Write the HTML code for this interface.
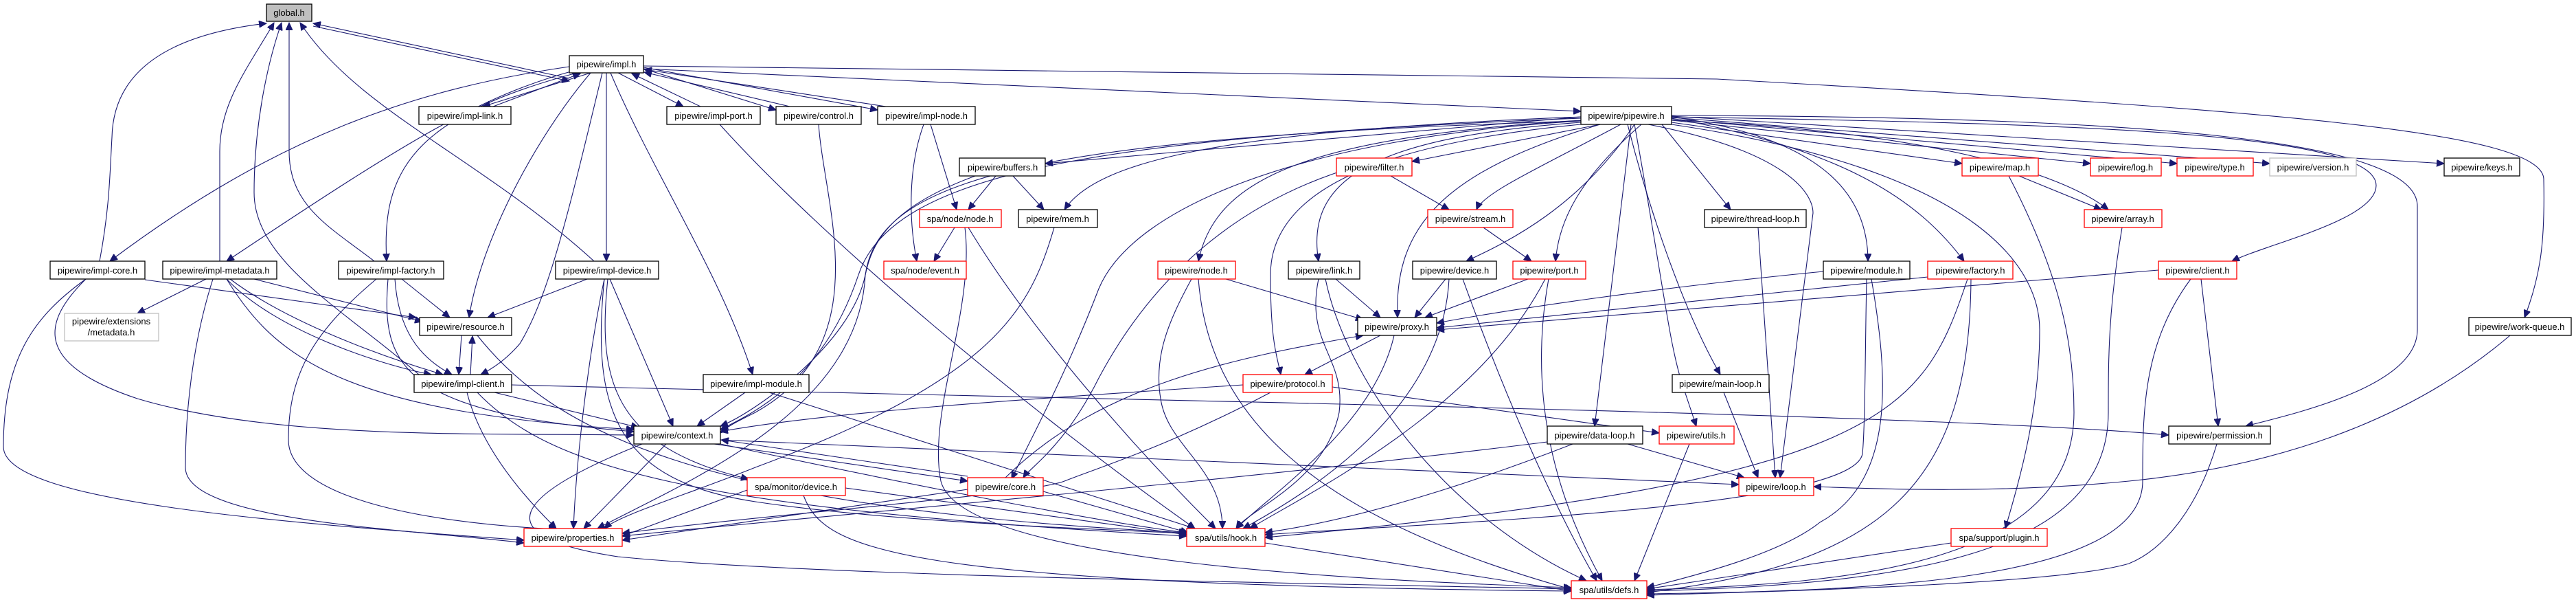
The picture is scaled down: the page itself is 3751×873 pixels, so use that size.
<!DOCTYPE html>
<html><head><meta charset="utf-8"><style>
html,body{margin:0;padding:0;background:#fff;}
svg{display:block}
text{font-family:"Liberation Sans",Arial,sans-serif;font-size:13px;fill:#000;text-anchor:middle;}
.e{fill:none;stroke:#191970;stroke-width:1.1;marker-end:url(#a);}
.n rect{fill:#fff;stroke:#000;stroke-width:1.3;}
.r rect{fill:#fff;stroke:#ff0000;stroke-width:1.3;}
.g rect{fill:#fff;stroke:#bfbfbf;stroke-width:1.3;}
</style></head><body>
<svg width="3751" height="873" viewBox="0 0 3751 873" xmlns="http://www.w3.org/2000/svg">
<defs><marker id="a" markerUnits="userSpaceOnUse" markerWidth="12" markerHeight="10" refX="11" refY="5" orient="auto"><path d="M0,0 L11,5 L0,10 z" fill="#191970" stroke="#191970"/></marker></defs>
<g>
<path class="e" d="M829,114 L456,34"/>
<path class="e" d="M456,38 L829,118"/>
<path class="e" d="M145,380 C160,300 160,250 163,200 C165,100 250,50 388,34"/>
<path class="e" d="M320,380 L320,220 C320,150 360,100 399,33"/>
<path class="e" d="M610,545 C500,450 370,380 370,280 C370,180 390,90 410,33"/>
<path class="e" d="M545,380 C480,330 421,300 421,220 L421,33"/>
<path class="e" d="M865,380 C700,230 520,160 437,33"/>
<path class="e" d="M860,106 L703,155"/>
<path class="e" d="M718,155 L845,107"/>
<path class="e" d="M900,106 L995,155"/>
<path class="e" d="M1020,155 L920,107"/>
<path class="e" d="M937,100 L1130,160"/>
<path class="e" d="M1150,155 L938,105"/>
<path class="e" d="M937,98 L1278,160"/>
<path class="e" d="M1290,155 L938,101"/>
<path class="e" d="M829,97 C600,130 400,200 160,380"/>
<path class="e" d="M835,103 C700,140 600,200 330,380"/>
<path class="e" d="M840,106 C600,170 555,250 563,380"/>
<path class="e" d="M883,106 L883,380"/>
<path class="e" d="M860,106 C780,200 700,350 683,462"/>
<path class="e" d="M877,106 C830,300 800,430 757,500 C740,520 720,535 700,545"/>
<path class="e" d="M889,106 C950,250 1050,400 1096,545"/>
<path class="e" d="M937,100 L2302,162"/>
<path class="e" d="M937,96 L2500,115 C3300,160 3700,190 3704,260 C3706,350 3700,400 3676,462"/>
<path class="e" d="M211,407 L606,462"/>
<path class="e" d="M125,406 C60,470 50,530 200,580 C400,640 700,630 923,633"/>
<path class="e" d="M125,406 C50,460 5,520 5,650 C5,730 400,760 763,786"/>
<path class="e" d="M300,406 L200,456"/>
<path class="e" d="M370,406 L615,468"/>
<path class="e" d="M330,406 C400,480 550,530 628,545"/>
<path class="e" d="M335,406 C420,470 560,520 645,545"/>
<path class="e" d="M330,406 C400,520 500,600 923,625"/>
<path class="e" d="M310,406 C280,500 270,600 270,680 C270,760 600,770 763,790"/>
<path class="e" d="M585,406 L655,462"/>
<path class="e" d="M575,406 C580,480 610,520 658,545"/>
<path class="e" d="M565,406 C555,530 580,600 923,628"/>
<path class="e" d="M548,406 C460,480 420,540 420,640 C420,720 600,760 810,770"/>
<path class="e" d="M855,406 L710,462"/>
<path class="e" d="M888,406 L980,620"/>
<path class="e" d="M880,406 C860,500 840,650 835,769"/>
<path class="e" d="M885,406 C870,550 890,650 1090,697"/>
<path class="e" d="M880,406 C860,600 900,700 1100,730 C1300,760 1600,770 1728,776"/>
<path class="e" d="M672,488 L668,545"/>
<path class="e" d="M685,545 L688,489"/>
<path class="e" d="M695,488 C800,620 1000,740 1728,775"/>
<path class="e" d="M745,560 C1500,580 2800,600 3158,633"/>
<path class="e" d="M720,571 L930,622"/>
<path class="e" d="M680,571 C700,650 760,720 810,769"/>
<path class="e" d="M695,571 C800,680 1000,740 1728,780"/>
<path class="e" d="M1085,571 L1015,620"/>
<path class="e" d="M1120,571 L1740,769"/>
<path class="e" d="M970,646 L850,769"/>
<path class="e" d="M1040,646 L1409,700"/>
<path class="e" d="M1409,693 L1050,640"/>
<path class="e" d="M1049,640 L2532,705"/>
<path class="e" d="M935,646 C750,720 700,780 900,810 C1200,840 2000,850 2288,857"/>
<path class="e" d="M1049,646 C1300,700 1600,760 1728,775"/>
<path class="e" d="M1231,710 L1728,778"/>
<path class="e" d="M1170,721 C1200,800 1300,850 2288,860"/>
<path class="e" d="M1088,713 L906,780"/>
<path class="e" d="M1409,712 L906,786"/>
<path class="e" d="M1519,715 L1730,775"/>
<path class="e" d="M1464,695 C1600,560 1800,520 1985,488"/>
<path class="e" d="M1842,790 L2288,860"/>
<path class="e" d="M2302,170 L1522,238"/>
<path class="e" d="M2302,170 C1800,190 1600,230 1550,305"/>
<path class="e" d="M2330,181 L2056,235"/>
<path class="e" d="M2360,181 C2250,240 2160,280 2150,305"/>
<path class="e" d="M2302,175 C1900,200 1770,260 1745,380"/>
<path class="e" d="M2302,178 C2000,200 1900,260 1920,380"/>
<path class="e" d="M2380,181 C2300,300 2200,350 2135,380"/>
<path class="e" d="M2390,181 C2300,260 2270,320 2265,380"/>
<path class="e" d="M2330,181 C2100,250 2030,330 2035,462"/>
<path class="e" d="M2302,181 C2000,210 1850,280 1850,400 C1850,500 1860,520 1865,545"/>
<path class="e" d="M2302,176 C1900,200 1650,300 1600,420 C1550,550 1500,640 1473,697"/>
<path class="e" d="M2302,172 C1600,200 1300,250 1250,400 C1200,550 1100,600 1049,625"/>
<path class="e" d="M2302,176 C1500,200 1280,260 1260,400 C1250,600 1000,700 870,769"/>
<path class="e" d="M1048,181 C1200,350 1500,600 1740,769"/>
<path class="e" d="M1192,181 C1200,300 1280,500 1100,600 C1070,615 1060,620 1049,630"/>
<path class="e" d="M1345,181 C1320,250 1325,330 1335,380"/>
<path class="e" d="M1355,181 L1393,305"/>
<path class="e" d="M1450,256 L1410,305"/>
<path class="e" d="M1475,256 L1520,305"/>
<path class="e" d="M1420,256 C1300,300 1270,350 1260,400 C1240,500 1100,600 1049,620"/>
<path class="e" d="M1390,331 L1360,380"/>
<path class="e" d="M1410,331 C1500,480 1650,650 1770,769"/>
<path class="e" d="M1405,331 C1420,450 1350,600 1370,700 C1400,820 2000,845 2288,855"/>
<path class="e" d="M1535,331 C1500,450 1450,550 1100,680 C1000,720 900,750 880,769"/>
<path class="e" d="M2025,256 L2110,305"/>
<path class="e" d="M1950,250 C1800,300 1680,400 1600,550 C1550,650 1500,680 1490,695"/>
<path class="e" d="M2160,331 L2230,380"/>
<path class="e" d="M1785,406 L1985,465"/>
<path class="e" d="M1735,406 C1700,470 1680,520 1690,580 C1700,650 1780,680 1780,769"/>
<path class="e" d="M1745,406 C1760,600 1900,750 2290,858"/>
<path class="e" d="M1945,406 L2010,462"/>
<path class="e" d="M1920,406 C1900,500 1960,520 1950,600 C1930,700 1820,740 1800,769"/>
<path class="e" d="M1930,406 C1960,550 2100,750 2310,845"/>
<path class="e" d="M2105,406 L2060,462"/>
<path class="e" d="M2110,406 C2100,600 1900,720 1810,769"/>
<path class="e" d="M2130,406 C2200,600 2270,750 2325,845"/>
<path class="e" d="M2225,406 L2075,462"/>
<path class="e" d="M2250,406 C2150,600 1900,720 1820,769"/>
<path class="e" d="M2255,406 C2220,600 2280,750 2333,845"/>
<path class="e" d="M2010,488 L1900,545"/>
<path class="e" d="M2030,488 C2000,620 1850,720 1800,769"/>
<path class="e" d="M1810,560 C1500,580 1200,600 1049,628"/>
<path class="e" d="M1940,563 L2416,630"/>
<path class="e" d="M1850,571 C1700,650 1600,680 1550,700 C1500,720 1100,750 906,776"/>
<path class="e" d="M2510,571 L2560,695"/>
<path class="e" d="M2560,331 L2585,695"/>
<path class="e" d="M2420,181 L2520,305"/>
<path class="e" d="M2434,170 C2650,200 2720,280 2720,380"/>
<path class="e" d="M2434,172 C2700,220 2800,300 2860,380"/>
<path class="e" d="M2434,178 L2857,238"/>
<path class="e" d="M2434,175 L3044,238"/>
<path class="e" d="M2434,173 L3170,238"/>
<path class="e" d="M2434,171 L3305,238"/>
<path class="e" d="M2434,169 L3559,238"/>
<path class="e" d="M2434,175 C2800,190 3000,250 3070,305"/>
<path class="e" d="M2434,170 C3000,180 3460,190 3460,270 C3460,320 3300,355 3250,380"/>
<path class="e" d="M2434,168 C3100,170 3520,200 3520,300 L3520,480 C3520,560 3350,600 3270,620"/>
<path class="e" d="M2370,181 C2400,300 2450,450 2505,545"/>
<path class="e" d="M2375,181 L2322,620"/>
<path class="e" d="M2380,181 C2420,400 2430,500 2450,560 L2470,620"/>
<path class="e" d="M2400,181 C2600,220 2640,280 2640,310 L2592,695"/>
<path class="e" d="M2434,181 C2900,250 2970,400 2970,480 C2970,600 2940,700 2920,769"/>
<path class="e" d="M2940,256 L3060,305"/>
<path class="e" d="M2925,256 C3000,400 3020,500 3020,600 C3020,820 2700,850 2398,858"/>
<path class="e" d="M3090,331 C3070,450 3070,520 3070,600 C3070,800 2800,850 2398,860"/>
<path class="e" d="M2655,395 C2400,420 2200,450 2092,470"/>
<path class="e" d="M2718,406 C2716,500 2716,620 2712,660 C2700,740 2100,760 1842,778"/>
<path class="e" d="M2725,406 C2750,550 2760,700 2650,760 C2600,800 2500,830 2398,855"/>
<path class="e" d="M2807,403 L2092,477"/>
<path class="e" d="M2865,406 C2800,600 2750,700 1842,782"/>
<path class="e" d="M2870,406 C2868,700 2750,820 2398,862"/>
<path class="e" d="M3143,393 L2092,480"/>
<path class="e" d="M3205,406 L3230,620"/>
<path class="e" d="M3190,406 C3120,500 3120,600 3120,700 C3120,850 2700,860 2398,864"/>
<path class="e" d="M3228,646 C3200,740 3150,800 3100,820 C3000,850 2600,860 2398,866"/>
<path class="e" d="M3655,488 C3500,620 3300,680 3100,700 C2900,720 2700,710 2641,708"/>
<path class="e" d="M2370,646 L2540,695"/>
<path class="e" d="M2290,646 C2100,720 1950,760 1842,775"/>
<path class="e" d="M2253,643 C1800,700 1200,750 906,780"/>
<path class="e" d="M2460,646 L2380,845"/>
<path class="e" d="M2841,790 L2398,857"/>
</g>
<g class="n"><rect x="388" y="6" width="66" height="25" style="fill:#bfbfbf"/><text x="421" y="23">global.h</text></g>
<g class="n"><rect x="829" y="81" width="108" height="25"/><text x="883" y="98">pipewire/impl.h</text></g>
<g class="n"><rect x="610" y="155" width="134" height="26"/><text x="677" y="173">pipewire/impl-link.h</text></g>
<g class="n"><rect x="971" y="155" width="136" height="26"/><text x="1039" y="173">pipewire/impl-port.h</text></g>
<g class="n"><rect x="1130" y="155" width="124" height="26"/><text x="1192" y="173">pipewire/control.h</text></g>
<g class="n"><rect x="1278" y="155" width="142" height="26"/><text x="1349" y="173">pipewire/impl-node.h</text></g>
<g class="n"><rect x="2302" y="155" width="132" height="26"/><text x="2368" y="173">pipewire/pipewire.h</text></g>
<g class="n"><rect x="1397" y="230" width="125" height="26"/><text x="1460" y="248">pipewire/buffers.h</text></g>
<g class="r"><rect x="1946" y="230" width="110" height="26"/><text x="2001" y="248">pipewire/filter.h</text></g>
<g class="r"><rect x="2857" y="230" width="111" height="26"/><text x="2912" y="248">pipewire/map.h</text></g>
<g class="r"><rect x="3044" y="230" width="103" height="26"/><text x="3095" y="248">pipewire/log.h</text></g>
<g class="r"><rect x="3170" y="230" width="111" height="26"/><text x="3225" y="248">pipewire/type.h</text></g>
<g class="g"><rect x="3305" y="230" width="126" height="26"/><text x="3368" y="248">pipewire/version.h</text></g>
<g class="n"><rect x="3559" y="230" width="110" height="26"/><text x="3614" y="248">pipewire/keys.h</text></g>
<g class="r"><rect x="1339" y="305" width="119" height="26"/><text x="1398" y="323">spa/node/node.h</text></g>
<g class="n"><rect x="1483" y="305" width="115" height="26"/><text x="1540" y="323">pipewire/mem.h</text></g>
<g class="r"><rect x="2079" y="305" width="124" height="26"/><text x="2141" y="323">pipewire/stream.h</text></g>
<g class="n"><rect x="2482" y="305" width="148" height="26"/><text x="2556" y="323">pipewire/thread-loop.h</text></g>
<g class="r"><rect x="3035" y="305" width="113" height="26"/><text x="3091" y="323">pipewire/array.h</text></g>
<g class="n"><rect x="73" y="380" width="138" height="26"/><text x="142" y="398">pipewire/impl-core.h</text></g>
<g class="n"><rect x="237" y="380" width="166" height="26"/><text x="320" y="398">pipewire/impl-metadata.h</text></g>
<g class="n"><rect x="493" y="380" width="153" height="26"/><text x="569" y="398">pipewire/impl-factory.h</text></g>
<g class="n"><rect x="809" y="380" width="150" height="26"/><text x="884" y="398">pipewire/impl-device.h</text></g>
<g class="r"><rect x="1287" y="380" width="120" height="26"/><text x="1347" y="398">spa/node/event.h</text></g>
<g class="r"><rect x="1686" y="380" width="113" height="26"/><text x="1742" y="398">pipewire/node.h</text></g>
<g class="n"><rect x="1876" y="380" width="104" height="26"/><text x="1928" y="398">pipewire/link.h</text></g>
<g class="n"><rect x="2057" y="380" width="122" height="26"/><text x="2118" y="398">pipewire/device.h</text></g>
<g class="r"><rect x="2203" y="380" width="106" height="26"/><text x="2256" y="398">pipewire/port.h</text></g>
<g class="n"><rect x="2655" y="380" width="126" height="26"/><text x="2718" y="398">pipewire/module.h</text></g>
<g class="r"><rect x="2807" y="380" width="124" height="26"/><text x="2869" y="398">pipewire/factory.h</text></g>
<g class="r"><rect x="3143" y="380" width="114" height="26"/><text x="3200" y="398">pipewire/client.h</text></g>
<g class="g"><rect x="94" y="456" width="137" height="40"/><text x="162" y="472">pipewire/extensions</text><text x="162" y="488">/metadata.h</text></g>
<g class="n"><rect x="611" y="462" width="134" height="26"/><text x="678" y="480">pipewire/resource.h</text></g>
<g class="n"><rect x="1977" y="462" width="115" height="26"/><text x="2034" y="480">pipewire/proxy.h</text></g>
<g class="n"><rect x="3595" y="462" width="149" height="26"/><text x="3669" y="480">pipewire/work-queue.h</text></g>
<g class="n"><rect x="603" y="545" width="142" height="26"/><text x="674" y="563">pipewire/impl-client.h</text></g>
<g class="n"><rect x="1024" y="545" width="154" height="26"/><text x="1101" y="563">pipewire/impl-module.h</text></g>
<g class="r"><rect x="1810" y="545" width="130" height="26"/><text x="1875" y="563">pipewire/protocol.h</text></g>
<g class="n"><rect x="2435" y="545" width="141" height="26"/><text x="2505" y="563">pipewire/main-loop.h</text></g>
<g class="n"><rect x="923" y="620" width="126" height="26"/><text x="986" y="638">pipewire/context.h</text></g>
<g class="n"><rect x="2253" y="620" width="139" height="26"/><text x="2322" y="638">pipewire/data-loop.h</text></g>
<g class="r"><rect x="2416" y="620" width="109" height="26"/><text x="2470" y="638">pipewire/utils.h</text></g>
<g class="n"><rect x="3158" y="620" width="148" height="26"/><text x="3232" y="638">pipewire/permission.h</text></g>
<g class="r"><rect x="1088" y="695" width="143" height="26"/><text x="1159" y="713">spa/monitor/device.h</text></g>
<g class="r"><rect x="1409" y="695" width="110" height="26"/><text x="1464" y="713">pipewire/core.h</text></g>
<g class="r"><rect x="2532" y="695" width="109" height="26"/><text x="2586" y="713">pipewire/loop.h</text></g>
<g class="r"><rect x="763" y="769" width="143" height="26"/><text x="834" y="787">pipewire/properties.h</text></g>
<g class="r"><rect x="1728" y="769" width="114" height="26"/><text x="1785" y="787">spa/utils/hook.h</text></g>
<g class="r"><rect x="2841" y="769" width="140" height="26"/><text x="2911" y="787">spa/support/plugin.h</text></g>
<g class="r"><rect x="2288" y="845" width="110" height="26"/><text x="2343" y="863">spa/utils/defs.h</text></g>
</svg>
</body></html>
